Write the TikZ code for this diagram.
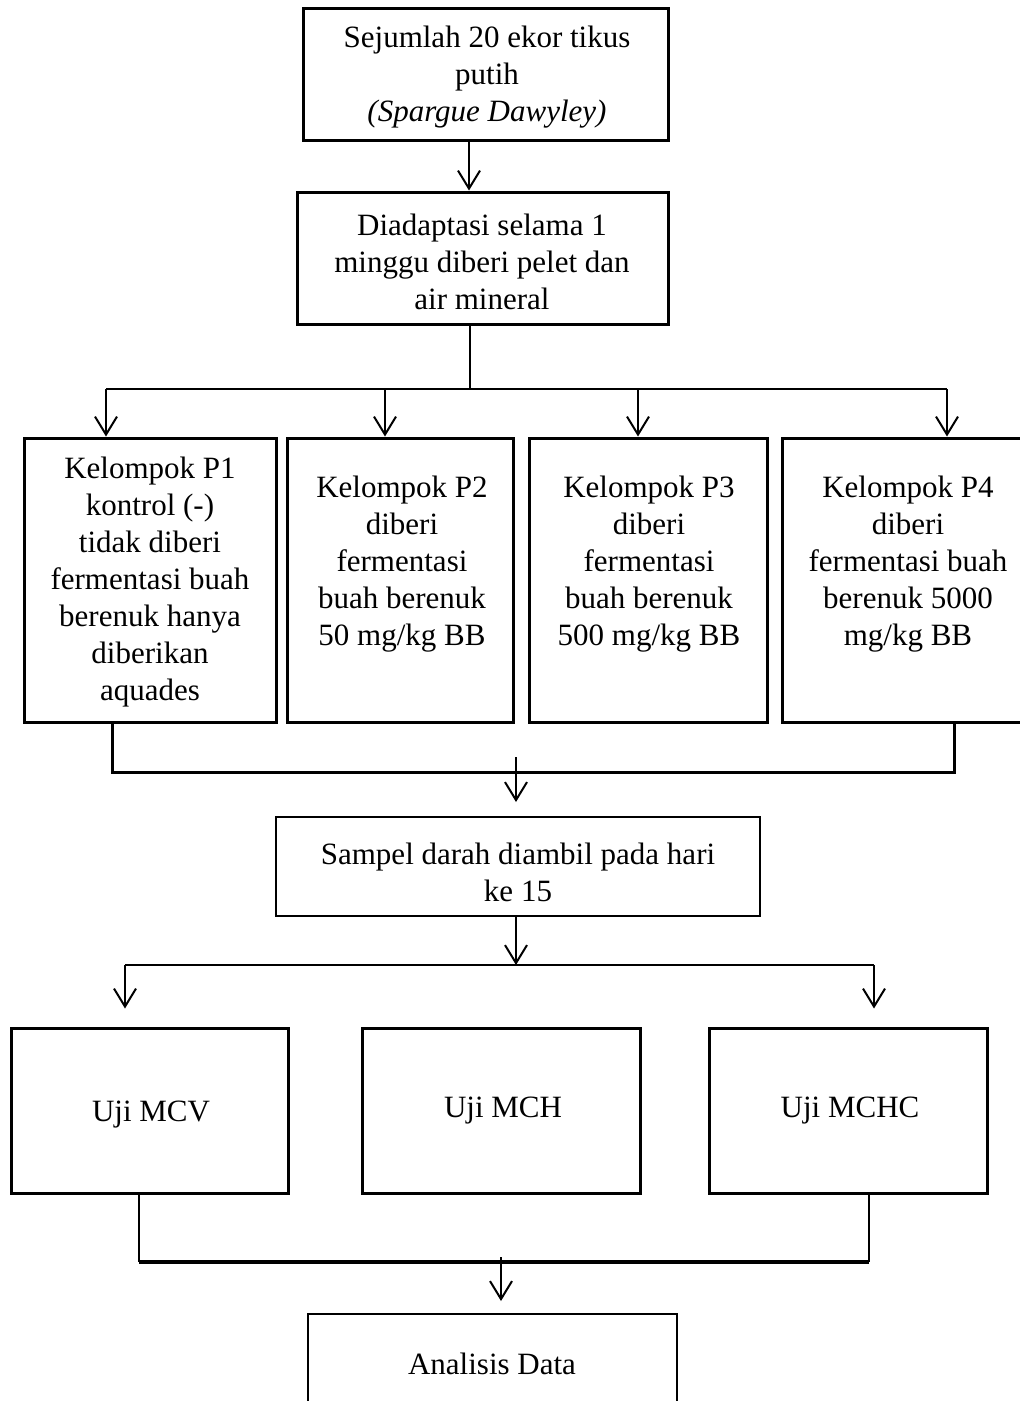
\documentclass[tikz,border=0pt]{standalone}
\usepackage{fontspec}
\setmainfont{Liberation Serif}
\usetikzlibrary{arrows.meta}
\begin{document}
\begin{tikzpicture}[x=1pt,y=-1pt,
  box/.style={draw, line width=3pt, inner sep=0pt, align=center,
    font=\fontsize{31}{37}\selectfont},
  thinbox/.style={box, line width=2pt},
  txt/.style={inner sep=0pt, align=center, font=\fontsize{31}{37}\selectfont},
  conn/.style={line width=2pt},
  thickconn/.style={line width=3pt},
  heavyconn/.style={line width=4pt},
  arr/.style={line width=2pt, -{Straight Barb[length=18pt,width=22pt]}}]
\useasboundingbox (0,0) rectangle (1020,1401);

% boxes
\node[box, minimum width=365pt, minimum height=132pt] (b1) at (485.5,74) {};
\node[txt] (b1t) at (487,77) {Sejumlah 20 ekor tikus\\putih\\\textit{(Spargue Dawyley)}};
\node[box, minimum width=371pt, minimum height=132pt] (b2) at (482.5,258) {};
\node[txt] (b2t) at (482,262) {Diadaptasi selama 1\\minggu diberi pelet dan\\air mineral};

\node[box, minimum width=252pt, minimum height=284pt] (p1) at (150,580) {};
\node[txt] (p1t) at (150,582) {Kelompok P1\\kontrol (-)\\tidak diberi\\fermentasi buah\\berenuk hanya\\diberikan\\aquades};
\node[box, minimum width=226pt, minimum height=284pt] (p2) at (400,580) {};
\node[txt] (p2t) at (402,564) {Kelompok P2\\diberi\\fermentasi\\buah berenuk\\50 mg/kg BB};
\node[box, minimum width=238pt, minimum height=284pt] (p3) at (648,580) {};
\node[txt] (p3t) at (649,564) {Kelompok P3\\diberi\\fermentasi\\buah berenuk\\500 mg/kg BB};
\node[box, minimum width=252pt, minimum height=284pt] (p4) at (908,580) {};
\node[txt] (p4t) at (908,564) {Kelompok P4\\diberi\\fermentasi buah\\berenuk 5000\\mg/kg BB};

\node[thinbox, minimum width=484pt, minimum height=99pt] (samp) at (518,866.5) {};
\node[txt] (sampt) at (518,872) {Sampel darah diambil pada hari\\ke 15};

\node[box, minimum width=277pt, minimum height=165pt] (mcv) at (149.5,1110.5) {};
\node[txt] (mcvt) at (151,1115) {Uji MCV};
\node[box, minimum width=278pt, minimum height=165pt] (mch) at (501,1110.5) {};
\node[txt] (mcht) at (503,1111) {Uji MCH};
\node[box, minimum width=278pt, minimum height=165pt] (mchc) at (848,1110.5) {};
\node[txt] (mchct) at (850,1111) {Uji MCHC};

\node[thinbox, minimum width=369pt, minimum height=166pt] (ana) at (492.5,1397) {};
\node[txt] (anat) at (492,1364) {Analisis Data};

% junction coordinates
\coordinate (a1) at (469,0);
\coordinate (j1) at (470,389);
\coordinate (s1) at (106,389);
\coordinate (s2) at (385,389);
\coordinate (s3) at (638,389);
\coordinate (s4) at (947,389);
\coordinate (q1) at (112,772);
\coordinate (q4) at (954,772);
\coordinate (m1) at (516,757);
\coordinate (m2) at (516,965);
\coordinate (t1) at (125,965);
\coordinate (t3) at (874,965);
\coordinate (u1) at (139,1262);
\coordinate (u3) at (869,1262);
\coordinate (v1) at (501,1257);

% connectors
\draw[arr] (b1.south -| a1) -- (b2.north -| a1);
\draw[conn] (b2.south -| j1) -- (j1);
\draw[conn] (s1) -- (s4);
\draw[arr] (s1) -- (p1.north -| s1);
\draw[arr] (s2) -- (p2.north -| s2);
\draw[arr] (s3) -- (p3.north -| s3);
\draw[arr] (s4) -- (p4.north -| s4);

\draw[thickconn] (p1.south -| q1) -- (q1) -- (q4) -- (p4.south -| q4);
\draw[arr, shorten >=14pt] (m1) -- (samp.north -| m1);

\draw[arr] (samp.south -| m2) -- (m2);
\draw[conn] (t1) -- (t3);
\draw[arr, shorten >=18pt] (t1) -- (mcv.north -| t1);
\draw[arr, shorten >=18pt] (t3) -- (mchc.north -| t3);

\draw[conn] (mcv.south -| u1) -- (u1);
\draw[conn] (u3) -- (mchc.south -| u3);
\draw[heavyconn] (u1) -- (u3);
\draw[arr, shorten >=12pt] (v1) -- (ana.north -| v1);
\end{tikzpicture}
\end{document}
